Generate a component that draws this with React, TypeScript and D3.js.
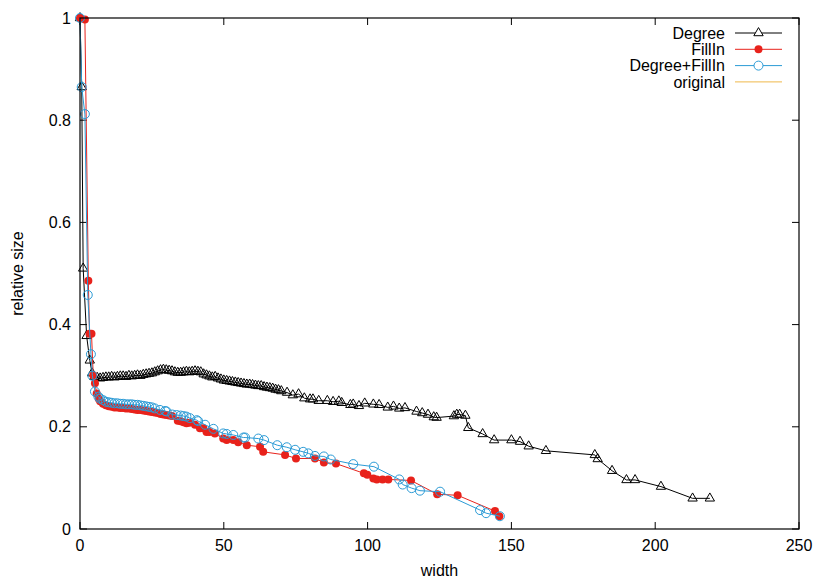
import React, { useEffect, useRef } from "react";
import * as d3 from "d3";

// values: [width, relative size]
const degree: [number, number][] = [
  [0, 1.0], [0.6, 0.865], [1.1, 0.51], [2.3, 0.378], [3.4, 0.33], [4.2, 0.305],
  [5, 0.298], [6, 0.296], [7, 0.295], [8, 0.296], [9, 0.297], [10, 0.297],
  [11, 0.298], [12, 0.297], [13, 0.298], [14, 0.299], [15, 0.299], [16, 0.298],
  [17, 0.3], [18, 0.299], [19, 0.3], [20, 0.301], [21, 0.3], [22, 0.302],
  [23, 0.303], [24, 0.304], [25, 0.305], [26, 0.307], [27, 0.309], [28, 0.311],
  [29, 0.312], [30, 0.311], [31, 0.31], [32, 0.309], [33, 0.307], [34, 0.306],
  [35, 0.306], [36, 0.307], [37, 0.308], [38, 0.307], [39, 0.308], [40, 0.309],
  [41, 0.308], [42, 0.307], [43, 0.303], [44, 0.301], [45, 0.299], [46, 0.297],
  [47, 0.298], [48, 0.295], [49, 0.293], [50, 0.291], [51, 0.29], [52, 0.289],
  [53, 0.288], [54, 0.287], [55, 0.286], [56, 0.285], [57, 0.284], [58, 0.283],
  [59, 0.283], [60, 0.282], [61, 0.281], [62, 0.28], [63, 0.28], [64, 0.278],
  [65, 0.277], [66, 0.276], [67, 0.275], [68, 0.273], [69, 0.272], [70, 0.27],
  [72, 0.267], [74, 0.262], [76, 0.264], [78, 0.256], [80, 0.254], [81, 0.254],
  [83, 0.251], [86, 0.251], [88, 0.249], [90, 0.25], [91, 0.247], [94, 0.243],
  [95, 0.244], [97, 0.241], [99, 0.246], [102, 0.244], [104, 0.243], [107, 0.238],
  [109, 0.24], [111, 0.236], [113, 0.237], [117, 0.23], [119, 0.227], [121, 0.224],
  [123, 0.219], [124, 0.218], [130, 0.221], [131, 0.224], [132, 0.224], [134, 0.222],
  [135, 0.198], [140, 0.186], [144, 0.174], [150, 0.174], [153, 0.171], [156, 0.162],
  [162, 0.153], [179, 0.145], [180, 0.137], [185, 0.114], [190, 0.096], [193, 0.096],
  [202, 0.083], [213, 0.06], [219, 0.06],
];

const fillIn: [number, number][] = [
  [0, 1.0], [1.7, 0.997], [2.9, 0.486], [3.3, 0.382], [4, 0.382], [4.6, 0.301],
  [5.2, 0.285], [5.8, 0.265], [6.5, 0.255], [7, 0.25], [8, 0.245], [9, 0.242],
  [10, 0.24], [11, 0.239], [12, 0.238], [13, 0.238], [14, 0.237], [15, 0.237],
  [16, 0.236], [17, 0.236], [18, 0.235], [19, 0.234], [20, 0.233], [21, 0.233],
  [22, 0.232], [23, 0.231], [24, 0.23], [25, 0.229], [26, 0.228], [27, 0.227],
  [28, 0.225], [29, 0.224], [30, 0.223], [31, 0.222], [32, 0.221], [34, 0.212],
  [35, 0.211], [36, 0.209], [37, 0.207], [38, 0.208], [40, 0.204], [41.7, 0.197],
  [42.9, 0.197], [44, 0.19], [45, 0.19], [46.9, 0.187], [49.8, 0.177], [51, 0.174],
  [53.3, 0.174], [55, 0.17], [58, 0.164], [62.6, 0.161], [63.7, 0.151], [71.3, 0.145],
  [75.1, 0.138], [81.7, 0.138], [84.8, 0.13], [89, 0.128], [98.7, 0.109], [99.9, 0.106],
  [102, 0.099], [103.2, 0.097], [105.2, 0.097], [107.2, 0.097], [115.1, 0.095],
  [124.2, 0.068], [131.3, 0.066], [144.3, 0.035], [145.8, 0.025],
];

const degreeFillIn: [number, number][] = [
  [0, 1.0], [0.6, 0.865], [1.7, 0.812], [2.7, 0.458], [3.8, 0.342], [4.3, 0.3],
  [5.2, 0.269], [6.4, 0.259], [7, 0.255], [8.1, 0.252], [9, 0.249], [10, 0.248],
  [11, 0.247], [12, 0.246], [13, 0.246], [14, 0.245], [15, 0.245], [16, 0.244],
  [17, 0.244], [18, 0.244], [19, 0.243], [20, 0.243], [21, 0.242], [22, 0.241],
  [23, 0.24], [24, 0.239], [25, 0.238], [26, 0.236], [27.8, 0.233], [29.6, 0.231],
  [30.1, 0.23], [32.1, 0.224], [33.6, 0.223], [35, 0.222], [36, 0.221], [37, 0.22],
  [38.2, 0.217], [40.6, 0.213], [41.1, 0.211], [43.5, 0.204], [46.4, 0.196],
  [49.8, 0.187], [51, 0.186], [53.3, 0.184], [56.8, 0.179], [57.4, 0.179], [62, 0.177],
  [64, 0.174], [68.6, 0.164], [71.9, 0.16], [74.8, 0.155], [77.6, 0.151], [79.4, 0.148],
  [81.7, 0.143], [84.8, 0.142], [87.2, 0.136], [95, 0.127], [102.2, 0.122], [111, 0.097],
  [112.2, 0.087], [115.3, 0.08], [118.2, 0.075], [125.2, 0.073], [139.1, 0.037],
  [141.2, 0.031], [146, 0.025],
];

const xTicks = [0, 50, 100, 150, 200, 250];
const yTicks = [0, 0.2, 0.4, 0.6, 0.8, 1];
const legendLabels = ["Degree", "FillIn", "Degree+FillIn", "original"];
const colors = ["#000000", "#e8221b", "#2b9bd6", "#efb84a"];

const App = () => {
  const svgRef = useRef<SVGSVGElement>(null);

  useEffect(() => {
    const W = 830;
    const H = 581;
    const margin = { top: 18, right: 31, bottom: 52, left: 80 };
    const width = W - margin.left - margin.right;
    const height = H - margin.top - margin.bottom;
    const font = "'Liberation Sans', Arial, sans-serif";
    const fs = 16;

    d3.select(svgRef.current).selectAll("*").remove();

    const root = d3.select(svgRef.current).attr("width", W).attr("height", H);
    const svg = root.append("g").attr("transform", `translate(${margin.left},${margin.top})`);

    const x = d3.scaleLinear().domain([0, 250]).range([0, width]);
    const y = d3.scaleLinear().domain([0, 1]).range([height, 0]);
    const tick = 7;

    // ticks (gnuplot style: inward, mirrored)
    const tk = svg.append("g").attr("stroke", "#000").attr("stroke-width", 1);
    xTicks.forEach((t) => {
      tk.append("line").attr("x1", x(t)).attr("x2", x(t)).attr("y1", height).attr("y2", height - tick);
      tk.append("line").attr("x1", x(t)).attr("x2", x(t)).attr("y1", 0).attr("y2", tick);
    });
    yTicks.forEach((t) => {
      tk.append("line").attr("x1", 0).attr("x2", tick).attr("y1", y(t)).attr("y2", y(t));
      tk.append("line").attr("x1", width).attr("x2", width - tick).attr("y1", y(t)).attr("y2", y(t));
    });

    svg.append("g")
      .selectAll("text")
      .data(xTicks)
      .enter()
      .append("text")
      .attr("x", (d) => x(d))
      .attr("y", height + 22)
      .attr("text-anchor", "middle")
      .attr("font-family", font)
      .attr("font-size", fs)
      .text((d) => String(d));

    svg.append("g")
      .selectAll("text")
      .data(yTicks)
      .enter()
      .append("text")
      .attr("x", -9)
      .attr("y", (d) => y(d))
      .attr("dy", "0.35em")
      .attr("text-anchor", "end")
      .attr("font-family", font)
      .attr("font-size", fs)
      .text((d) => String(d));

    const line = d3.line<[number, number]>().x((d) => x(d[0])).y((d) => y(d[1]));
    const tri = d3.symbol().type(d3.symbolTriangle).size(38);

    // Degree
    svg.append("path").datum(degree).attr("d", line).attr("fill", "none")
      .attr("stroke", colors[0]).attr("stroke-width", 1);
    svg.append("g").selectAll("path").data(degree).enter().append("path")
      .attr("d", tri)
      .attr("transform", (d) => `translate(${x(d[0])},${y(d[1])})`)
      .attr("fill", "none").attr("stroke", colors[0]).attr("stroke-width", 1);

    // FillIn
    svg.append("path").datum(fillIn).attr("d", line).attr("fill", "none")
      .attr("stroke", colors[1]).attr("stroke-width", 1);
    svg.append("g").selectAll("circle").data(fillIn).enter().append("circle")
      .attr("cx", (d) => x(d[0])).attr("cy", (d) => y(d[1])).attr("r", 4)
      .attr("fill", colors[1]);

    // Degree+FillIn
    svg.append("path").datum(degreeFillIn).attr("d", line).attr("fill", "none")
      .attr("stroke", colors[2]).attr("stroke-width", 1);
    svg.append("g").selectAll("circle").data(degreeFillIn).enter().append("circle")
      .attr("cx", (d) => x(d[0])).attr("cy", (d) => y(d[1])).attr("r", 4.5)
      .attr("fill", "none").attr("stroke", colors[2]).attr("stroke-width", 1);

    // border
    svg.append("rect").attr("width", width).attr("height", height)
      .attr("fill", "none").attr("stroke", "#000").attr("stroke-width", 1.2);

    // legend
    const lg = svg.append("g").attr("transform", `translate(${725 - margin.left},${33 - margin.top})`);
    legendLabels.forEach((lab, i) => {
      const g = lg.append("g").attr("transform", `translate(0,${i * 16.3})`);
      g.append("text").attr("x", 0).attr("y", 0).attr("dy", "0.35em")
        .attr("text-anchor", "end").attr("font-family", font).attr("font-size", fs).text(lab);
      g.append("line").attr("x1", 10).attr("x2", 57).attr("y1", 0).attr("y2", 0)
        .attr("stroke", colors[i]).attr("stroke-width", 1);
      if (i === 0) {
        g.append("path").attr("d", tri).attr("transform", "translate(33.5,0)")
          .attr("fill", "#fff").attr("stroke", colors[0]);
      } else if (i === 1) {
        g.append("circle").attr("cx", 33.5).attr("cy", 0).attr("r", 4).attr("fill", colors[1]);
      } else if (i === 2) {
        g.append("circle").attr("cx", 33.5).attr("cy", 0).attr("r", 4.5)
          .attr("fill", "#fff").attr("stroke", colors[2]);
      }
    });

    // axis titles
    svg.append("text")
      .attr("x", width / 2)
      .attr("y", height + 47)
      .attr("text-anchor", "middle")
      .attr("font-family", font)
      .attr("font-size", fs)
      .text("width");

    svg.append("text")
      .attr("transform", "rotate(-90)")
      .attr("x", -height / 2)
      .attr("y", -margin.left + 23)
      .attr("text-anchor", "middle")
      .attr("font-family", font)
      .attr("font-size", fs)
      .text("relative size");
  }, []);

  return <svg ref={svgRef} style={{ position: "absolute", left: 0, top: 0 }}></svg>;
};

export default App;
